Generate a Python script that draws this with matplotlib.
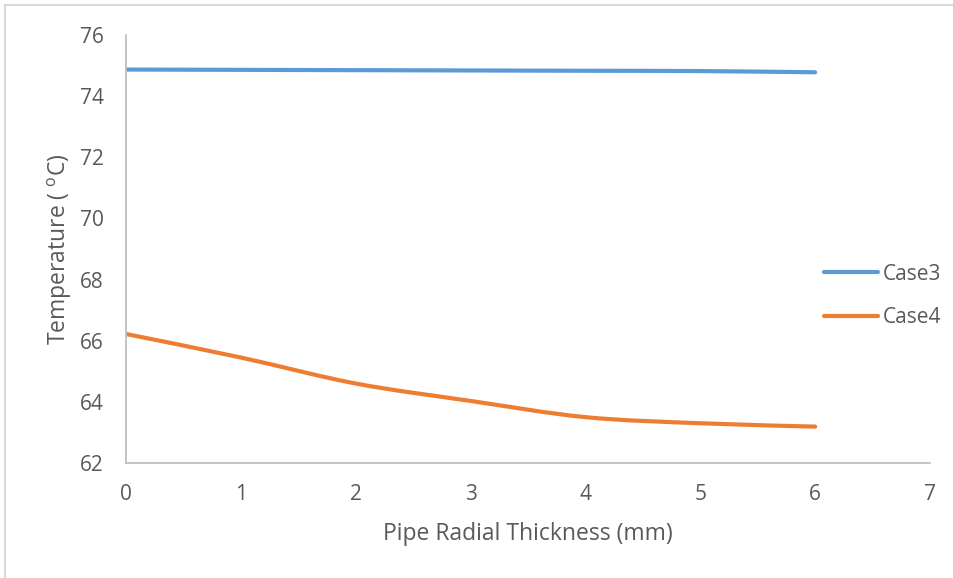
import numpy as np
import matplotlib.pyplot as plt
from matplotlib.path import Path
from matplotlib.patches import PathPatch
from matplotlib.lines import Line2D

# data
thickness = [0, 1, 2, 3, 4, 5, 6]
case3 = [74.87, 74.86, 74.85, 74.84, 74.83, 74.82, 74.78]
case4 = [66.22, 65.45, 64.60, 64.03, 63.50, 63.30, 63.19]

plt.rcParams['font.family'] = ['Open Sans', 'DejaVu Sans']
plt.rcParams['mathtext.fontset'] = 'custom'
plt.rcParams['mathtext.rm'] = 'Open Sans'

TXT = '#595959'
AX = '#BFBFBF'
BLUE = '#5B9BD5'
ORANGE = '#ED7D31'


def smooth_path(xs, ys):
    # Excel-style smoothed line (Catmull-Rom as cubic Bezier)
    p = np.column_stack([xs, ys]).astype(float)
    pts = np.vstack([p[0], p, p[-1]])
    verts = [p[0]]
    codes = [Path.MOVETO]
    for i in range(1, len(pts) - 2):
        c1 = pts[i] + (pts[i + 1] - pts[i - 1]) / 6
        c2 = pts[i + 1] - (pts[i + 2] - pts[i]) / 6
        verts += [c1, c2, pts[i + 1]]
        codes += [Path.CURVE4] * 3
    return Path(verts, codes)


fig = plt.figure(figsize=(9.54, 5.78), dpi=100)
ax = fig.add_axes([126 / 954, 1 - 463 / 578, (930 - 126) / 954, (463 - 35) / 578])

for ys, col in [(case3, BLUE), (case4, ORANGE)]:
    ax.add_patch(PathPatch(smooth_path(thickness, ys), facecolor='none',
                           edgecolor=col, linewidth=3, capstyle='round'))

ax.set_xlim(0, 7)
ax.set_ylim(62, 76)
ax.set_xticks(range(0, 8))
ax.set_yticks(range(62, 77, 2))

for s in ['top', 'right']:
    ax.spines[s].set_visible(False)
for s in ['left', 'bottom']:
    ax.spines[s].set_color(AX)
    ax.spines[s].set_linewidth(1.3)
ax.tick_params(length=0, labelsize=15, colors=TXT)
ax.tick_params(axis='y', pad=16)
ax.tick_params(axis='x', pad=15)

ax.set_xlabel('Pipe Radial Thickness (mm)', fontsize=16.5, color=TXT, labelpad=12)
ax.set_ylabel('Temperature ( $^{\\mathregular{o}}$C)', fontsize=16.5, color=TXT, labelpad=4)

handles = [Line2D([], [], color=BLUE, lw=3, solid_capstyle='round'),
           Line2D([], [], color=ORANGE, lw=3, solid_capstyle='round')]
fig.legend(handles, ['Case3', 'Case4'], loc='center left',
           bbox_to_anchor=(805 / 954, 1 - 296 / 578), frameon=False,
           fontsize=15, labelcolor=TXT, handlelength=2.6, handletextpad=0.25,
           labelspacing=1.1)

# chart area border (top and left visible)
fig.add_artist(Line2D([5 / 954, 1], [1 - 5 / 578, 1 - 5 / 578], color='#D9D9D9', lw=1.5))
fig.add_artist(Line2D([5 / 954, 5 / 954], [0, 1 - 5 / 578], color='#D9D9D9', lw=1.5))

fig.savefig('out.png', dpi=100)
